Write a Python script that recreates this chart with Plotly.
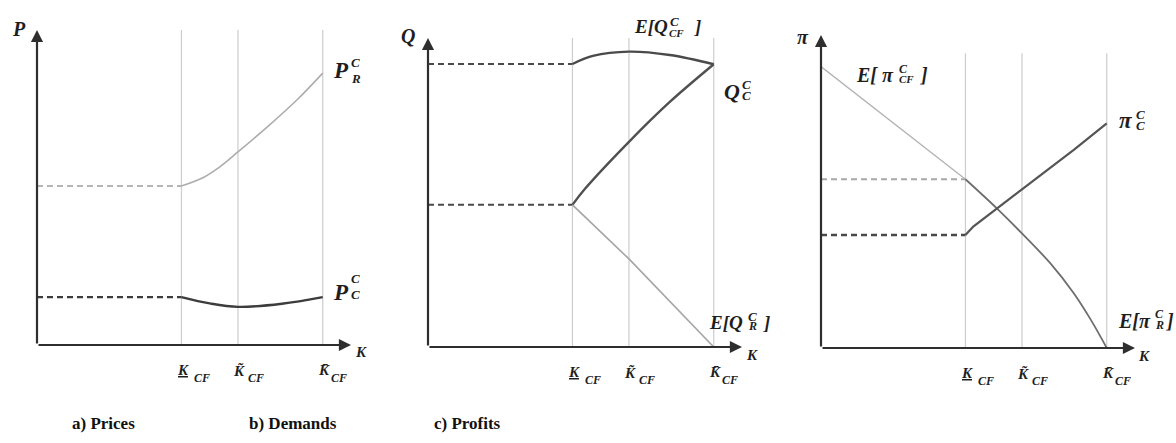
import plotly.graph_objects as go

# ---------------------------------------------------------------------------
# Data (capacity K on the horizontal axis, 0..10 in arbitrary units)
# ---------------------------------------------------------------------------
K_LOW, K_TILDE, K_BAR = 4.6, 6.4, 9.1
K_MARKS = [K_LOW, K_TILDE, K_BAR]
AXIS_MAX = 10

# a) Prices
price_r_k = [4.6, 5.3, 5.8, 6.4, 7.4, 8.3, 9.1]
price_r = [5.05, 5.32, 5.64, 6.13, 6.98, 7.8, 8.63]
price_c_k = [4.6, 5.5, 6.4, 7.8, 9.1]
price_c = [1.52, 1.32, 1.21, 1.31, 1.52]

# b) Demands
dem_cf_k = [4.6, 5.25, 6.4, 7.7, 9.1]
dem_cf = [9.16, 9.42, 9.56, 9.45, 9.15]
dem_c_k = [4.6, 5.0, 6.4, 7.7, 9.1]
dem_c = [4.6, 5.12, 6.64, 7.93, 9.15]
dem_r_k = [4.6, 6.4, 9.1]
dem_r = [4.6, 2.85, 0.0]

# c) Profits
prof_cf_k = [0.0, 4.6]
prof_cf = [8.99, 5.39]
prof_r_k = [4.6, 5.6, 6.4, 7.3, 8.05, 8.6, 9.1]
prof_r = [5.39, 4.46, 3.66, 2.71, 1.75, 0.89, 0.0]
prof_c_k = [4.6, 4.85, 6.4, 8.05, 9.1]
prof_c = [3.61, 3.88, 5.07, 6.33, 7.18]

# height of the vertical K guides in each panel
guide_top = [10.0, 10.0, 9.42]

tick_marks = ["<u>K</u>", "K\u0303", "K\u0304"]
tick_sub = "CF"
axis_y_names = ["P", "Q", "\u03c0"]
panel_titles = ["a) Prices", "b) Demands", "c) Profits"]

# ---------------------------------------------------------------------------
# Layout geometry (pixels)
# ---------------------------------------------------------------------------
W, H = 1176, 443
AXIS_LEN = 314
panels = [
    dict(x0=37, y_axis=345, y_top=30),
    dict(x0=428, y_axis=347, y_top=38),
    dict(x0=821, y_axis=348, y_top=35),
]
title_pos = [(103, 423), (293, 423), (467, 423)]

MATH_FONT = "Liberation Serif, DejaVu Serif, serif"
TEXT_COLOR = "#1e1e1e"
AXIS_COLOR = "#2e2e2e"
GUIDE_COLOR = "#cdcdcd"

fig = go.Figure()
layout = dict(
    width=W, height=H, autosize=False,
    margin=dict(l=0, r=0, t=0, b=0),
    paper_bgcolor="white", plot_bgcolor="white",
    showlegend=False,
)
annotations = []


def txt(xr, yr, x, y, text, size, dx, dy, anchor="left"):
    annotations.append(dict(
        x=x, y=y, xref=xr, yref=yr, showarrow=False,
        text="<b><i>%s</i></b>" % text,
        font=dict(family=MATH_FONT, size=size, color=TEXT_COLOR),
        xanchor=anchor, yanchor="middle", xshift=dx, yshift=dy,
    ))


for i, p in enumerate(panels):
    n = "" if i == 0 else str(i + 1)
    layout["xaxis" + n] = dict(
        domain=[p["x0"] / W, (p["x0"] + AXIS_LEN) / W],
        anchor="y" + n, range=[0, AXIS_MAX],
        showgrid=False, zeroline=False, showline=False,
        showticklabels=False, ticks="", fixedrange=True,
    )
    layout["yaxis" + n] = dict(
        domain=[(H - p["y_axis"]) / H, (H - p["y_top"]) / H],
        anchor="x" + n, range=[0, AXIS_MAX],
        showgrid=False, zeroline=False, showline=False,
        showticklabels=False, ticks="", fixedrange=True,
    )
    xr, yr = "x" + n, "y" + n

    # vertical guides at the K thresholds
    gx, gy = [], []
    for k in K_MARKS:
        gx += [k, k, None]
        gy += [0, guide_top[i], None]
    fig.add_trace(go.Scatter(x=gx, y=gy, mode="lines", xaxis=xr, yaxis=yr,
                             line=dict(color=GUIDE_COLOR, width=1.2),
                             hoverinfo="skip"))

    # axes drawn as arrows
    for (tx, ty) in [(AXIS_MAX, 0), (0, AXIS_MAX)]:
        annotations.append(dict(
            x=tx, y=ty, ax=0, ay=0, xref=xr, yref=yr, axref=xr, ayref=yr,
            text="", showarrow=True, arrowhead=2, arrowsize=1.1,
            arrowwidth=2.2, arrowcolor=AXIS_COLOR,
        ))

    # threshold labels under the K axis
    for k, mark, kdx, sdx in zip(K_MARKS, tick_marks, [-6, -7, -7], [11, 8, 6]):
        txt(xr, yr, k, 0, mark, 15, kdx, -25)
        txt(xr, yr, k, 0, tick_sub, 12, sdx, -33)

    # axis names
    txt(xr, yr, 0, AXIS_MAX, axis_y_names[i], 20,
        [-18, -20, -18][i], [1, 2, -2][i], anchor="center")
    txt(xr, yr, AXIS_MAX, 0, "K", 15,
        [10, 10, 9][i], [-7, -8, -8][i], anchor="center")

    # panel caption
    tx, ty = title_pos[i]
    annotations.append(dict(
        x=tx / W, y=1 - ty / H, xref="paper", yref="paper", showarrow=False,
        text="<b>%s</b>" % panel_titles[i],
        font=dict(family="Liberation Serif, serif", size=17, color="#111"),
        xanchor="center", yanchor="middle",
    ))


def line(ax, xs, ys, color, width, dash="solid", shape="spline"):
    n = "" if ax == 1 else str(ax)
    fig.add_trace(go.Scatter(
        x=xs, y=ys, mode="lines", xaxis="x" + n, yaxis="y" + n,
        line=dict(color=color, width=width, dash=dash, shape=shape,
                  smoothing=1.0 if shape == "spline" else None),
        hoverinfo="skip",
    ))


DASH = "6px,4px"

# a) Prices
line(1, [0, K_LOW], [price_r[0]] * 2, "#b5b5b5", 2, DASH, "linear")
line(1, price_r_k, price_r, "#adadad", 1.6)
line(1, [0, K_LOW], [price_c[0]] * 2, "#3c3c3c", 2.4, DASH, "linear")
line(1, price_c_k, price_c, "#3c3c3c", 2.4)

# b) Demands
line(2, [0, K_LOW], [dem_cf[0]] * 2, "#4a4a4a", 2, DASH, "linear")
line(2, dem_cf_k, dem_cf, "#4a4a4a", 2.4)
line(2, [0, K_LOW], [dem_c[0]] * 2, "#4a4a4a", 2, DASH, "linear")
line(2, dem_c_k, dem_c, "#505050", 2.4)
line(2, dem_r_k, dem_r, "#a5a5a5", 1.6, "solid", "linear")

# c) Profits
line(3, prof_cf_k, prof_cf, "#b3b3b3", 1.3, "solid", "linear")
line(3, [0, K_LOW], [prof_r[0]] * 2, "#a8a8a8", 2, DASH, "linear")
line(3, prof_r_k, prof_r, "#6e6e6e", 1.8)
line(3, [0, K_LOW], [prof_c[0]] * 2, "#4a4a4a", 2.4, DASH, "linear")
line(3, prof_c_k, prof_c, "#555555", 2.2, "solid", "linear")


def math_label(ax, x, y, parts):
    """parts: list of (text, size, xshift, yshift), each left-anchored."""
    n = "" if ax == 1 else str(ax)
    for text, size, dx, dy in parts:
        txt("x" + n, "y" + n, x, y, text, size, dx, dy)


# curve labels
math_label(1, K_BAR, price_r[-1], [("P", 23, 8, 3), ("C", 13, 26, 11), ("R", 13, 26, -5)])
math_label(1, K_BAR, price_c[-1], [("P", 23, 8, 5), ("C", 13, 26, 19), ("C", 13, 26, 3)])

math_label(2, K_TILDE, max(dem_cf), [("E[Q", 19, 3, 25), ("C", 13, 39, 30),
                                    ("CF", 11, 38, 19), ("]", 19, 63, 25)])
math_label(2, K_BAR, dem_c[-1], [("Q", 22, 8, -27), ("C", 13, 26, -20), ("C", 13, 26, -31)])
math_label(2, K_BAR, dem_r[-1], [("E[Q", 19, -7, 25), ("C", 13, 32, 31),
                                ("R", 12, 32, 21), ("]", 19, 47, 25)])

math_label(3, 0, prof_cf[0], [("E[ \u03c0", 20, 33, -8), ("C", 12, 76, -2),
                              ("CF", 11, 76, -12), ("]", 20, 96, -8)])
math_label(3, K_BAR, prof_c[-1], [("\u03c0", 23, 10, 3), ("C", 13, 27, 9), ("C", 13, 27, -2)])
math_label(3, K_BAR, prof_r[-1], [("E[\u03c0", 20, 9, 27), ("C", 12, 46, 34),
                                 ("R", 12, 46, 23), ("]", 20, 56, 27)])

layout["annotations"] = annotations
fig.update_layout(**layout)
fig.write_html("out.html")
